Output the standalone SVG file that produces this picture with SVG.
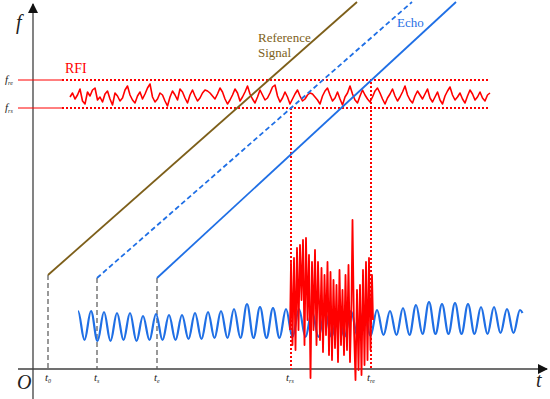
<svg xmlns="http://www.w3.org/2000/svg" width="550" height="399" viewBox="0 0 550 399">
<style>
.axis{stroke:#404040;stroke-width:1.3;fill:none}
.gdash{stroke:#555;stroke-width:1.2;stroke-dasharray:5,3;fill:none}
.rdot{stroke:#ff0000;stroke-width:2;stroke-dasharray:2,2;fill:none}
.rthin{stroke:#ff0000;stroke-width:1;fill:none}
.ital{font-family:"Liberation Serif",serif;font-style:italic;fill:#222}
.lbl{font-family:"Liberation Serif",serif}
</style>
<defs>
<marker id="ah" viewBox="0 0 10 10" refX="9" refY="5" markerWidth="10" markerHeight="10" markerUnits="userSpaceOnUse" orient="auto">
<path d="M0,0 L10,5 L0,10 z" fill="#111"/>
</marker>
</defs>
<rect width="550" height="399" fill="#fff"/>
<g id="axes">
<line class="axis" x1="33" y1="399" x2="33" y2="4" marker-end="url(#ah)"/>
<line class="axis" x1="18" y1="369" x2="547" y2="369" marker-end="url(#ah)"/>
<text class="ital" x="16" y="29" font-size="20">f</text>
<text class="ital" x="17" y="389" font-size="20">O</text>
<text class="ital" x="536" y="387" font-size="20">t</text>
<text class="ital" x="5" y="83" font-size="11">f<tspan font-size="6" dy="2">re</tspan></text>
<text class="ital" x="5" y="111" font-size="11">f<tspan font-size="6" dy="2">rs</tspan></text>
<text class="ital" x="45" y="381" font-size="11">t<tspan font-size="6" dy="2">0</tspan></text>
<text class="ital" x="94" y="381" font-size="11">t<tspan font-size="6" dy="2">s</tspan></text>
<text class="ital" x="154" y="381" font-size="11">t<tspan font-size="6" dy="2">e</tspan></text>
<text class="ital" x="286" y="381" font-size="11">t<tspan font-size="6" dy="2">rs</tspan></text>
<text class="ital" x="367" y="381" font-size="11">t<tspan font-size="6" dy="2">re</tspan></text>
</g>
<g id="rfi-band">
<line class="rthin" x1="18" y1="80" x2="62" y2="80"/>
<line class="rthin" x1="18" y1="108" x2="62" y2="108"/>
<line class="rdot" x1="62" y1="80" x2="490" y2="80"/>
<line class="rdot" x1="62" y1="108" x2="490" y2="108"/>
<text class="lbl" x="65" y="73" font-size="14" fill="#ff0000">RFI</text>
<polyline fill="none" stroke="#ff0000" stroke-width="1.6" stroke-linejoin="round" vector-effect="non-scaling-stroke" transform="translate(70,0) scale(2.5,1)" points="0,97 1,93 2,99 3,95 4,89 5,101 6,104 7,92 8,96 9,90 10,88 11,100 12,97 13,102 14,94 15,91 16,99 17,105 18,93 19,96 20,101 21,98 22,90 23,86 24,95 25,100 26,103 27,96 28,92 29,99 30,94 31,88 32,84 33,97 34,102 35,99 36,93 37,95 38,101 39,106 40,97 41,91 42,95 43,100 44,89 45,92 46,98 47,103 48,95 49,90 50,96 51,101 52,98 53,93 54,90 55,91 56,93 57,96 58,99 59,94 60,88 61,92 62,99 63,104 64,100 65,95 66,89 67,93 68,101 69,97 70,92 71,86 72,94 73,99 74,103 75,97 76,90 77,95 78,100 79,98 80,93 81,87 82,85 83,96 84,102 85,98 86,92 87,97 88,104 89,99 90,94 91,90 92,96 93,101 94,99 95,95 96,93 97,94 98,97 99,100 100,104 101,96 102,91 103,88 104,95 105,101 106,98 107,92 108,99 109,105 110,97 111,93 112,86 113,94 114,100 115,103 116,96 117,90 118,95 119,99 120,102 121,97 122,91 123,88 124,93 125,99 126,104 127,98 128,94 129,89 130,96 131,101 132,97 133,92 134,86 135,95 136,100 137,103 138,96 139,91 140,95 141,99 142,94 143,89 144,98 145,102 146,97 147,92 148,100 149,104 150,96 151,91 152,87 153,95 154,100 155,97 156,93 157,99 158,103 159,96 160,90 161,94 162,100 163,97 164,92 165,98 166,101 167,95 168,93"/>
</g>
<g id="connectors">
<line class="gdash" x1="48" y1="275" x2="48" y2="369"/>
<line class="gdash" x1="97" y1="278" x2="97" y2="369"/>
<line class="gdash" x1="157" y1="278" x2="157" y2="369"/>
<line class="rdot" x1="291" y1="108" x2="291" y2="369"/>
<line class="rdot" x1="371" y1="82" x2="371" y2="369"/>
</g>
<g id="reference-signal">
<line x1="48" y1="275" x2="357" y2="2" stroke="#7d5f1a" stroke-width="1.8"/>
<text class="lbl" x="258" y="42" font-size="13" fill="#7d5f1a">Reference</text>
<text class="lbl" x="258" y="57" font-size="13" fill="#7d5f1a">Signal</text>
</g>
<g id="echo">
<line x1="97" y1="278" x2="412" y2="2" stroke="#1f6fe5" stroke-width="1.8" stroke-dasharray="5,3"/>
<line x1="157" y1="278" x2="456" y2="2" stroke="#1f6fe5" stroke-width="1.8"/>
<text class="lbl" x="397" y="27" font-size="13" fill="#1f6fe5">Echo</text>
</g>
<g id="baseband-wave">
<path fill="none" stroke="#1f6fe5" stroke-width="2.2" d="M78,311 c2.4,0 4.1,29 6.5,29 c2.4,0 4.1,-29 6.5,-29 c2.4,0 4.1,30 6.5,30 c2.4,0 4.1,-29 6.5,-29 c2.4,0 4.1,29 6.5,29 c2.4,0 4.1,-28 6.5,-28 c2.4,0 4.1,27 6.5,27 c2.4,0 4.1,-27 6.5,-27 c2.4,0 4.1,28 6.5,28 c2.4,0 4.1,-25 6.5,-25 c2.4,0 4.1,24 6.5,24 c2.4,0 4.1,-26 6.5,-26 c2.4,0 4.1,26 6.5,26 c2.4,0 4.1,-25 6.5,-25 c2.4,0 4.1,25 6.5,25 c2.4,0 4.1,-25 6.5,-25 c2.4,0 4.1,24 6.5,24 c2.4,0 4.1,-26 6.5,-26 c2.4,0 4.1,26 6.5,26 c2.4,0 4.1,-27 6.5,-27 c2.4,0 4.1,26 6.5,26 c2.4,0 4.1,-27 6.5,-27 c2.4,0 4.1,27 6.5,27 c2.4,0 4.1,-29 6.5,-29 c2.4,0 4.1,29 6.5,29 c2.4,0 4.1,-34 6.5,-34 c2.4,0 4.1,34 6.5,34 c2.4,0 4.1,-31 6.5,-31 c2.4,0 4.1,31 6.5,31 c2.4,0 4.1,-30 6.5,-30 c2.4,0 4.1,30 6.5,30 c2.4,0 4.1,-29 6.5,-29 c2.4,0 4.1,28 6.5,28 c2.4,0 4.1,-28 6.5,-28 c2.4,0 4.1,28 6.5,28 c2.4,0 4.1,-26 6.5,-26 c2.4,0 4.1,26 6.5,26 c2.4,0 4.1,-26 6.5,-26 c2.4,0 4.1,26 6.5,26 c2.4,0 4.1,-25 6.5,-25 c2.4,0 4.1,25 6.5,25 c2.4,0 4.1,-26 6.5,-26 c2.4,0 4.1,25 6.5,25 c2.4,0 4.1,-26 6.5,-26 c2.4,0 4.1,26 6.5,26 c2.4,0 4.1,-26 6.5,-26 c2.4,0 4.1,25 6.5,25 c2.4,0 4.1,-24 6.5,-24 c2.4,0 4.1,24 6.5,24 c2.4,0 4.1,-27 6.5,-27 c2.4,0 4.1,27 6.5,27 c2.4,0 4.1,-30 6.5,-30 c2.4,0 4.1,29 6.5,29 c2.4,0 4.1,-32 6.5,-32 c2.4,0 4.1,32 6.5,32 c2.4,0 4.1,-30 6.5,-30 c2.4,0 4.1,30 6.5,30 c2.4,0 4.1,-31 6.5,-31 c2.4,0 4.1,31 6.5,31 c2.4,0 4.1,-30 6.5,-30 c2.4,0 4.1,30 6.5,30 c2.4,0 4.1,-27 6.5,-27 c2.4,0 4.1,27 6.5,27 c2.4,0 4.1,-27 6.5,-27 c2.4,0 4.1,26 6.5,26 c2.4,0 4.1,-24 6.5,-24 c2.4,0 4.1,24 6.5,24 c2.4,0 4.1,-23 6.5,-23 c1,0 1.8,1.5 2.5,3"/>
</g>
<g id="rfi-burst">
<polyline fill="none" stroke="#ff0000" stroke-width="1.8" stroke-linejoin="round" points="290,330 291,262 292.5,345 294,258 295.5,350 297,248 298.5,330 300,245 301.5,300 303,240 304.5,345 306,238 307.5,320 309,255 310.5,378 312,262 313.5,330 315,250 316.5,345 318,262 320,340 321.5,268 323,352 324.5,275 326,335 327.5,262 329,355 330.5,272 332,360 333.5,280 335,348 336.5,285 338,362 339.5,270 341,345 342.5,290 344,355 345.5,275 347,350 348.5,265 350,362 351.5,300 352.5,220 354,330 355.5,380 357,290 358.5,370 360,285 361.5,375 363,270 364.5,365 366,262 367.5,360 369,258 370.5,350 372,275 373,320"/>
</g>
</svg>
